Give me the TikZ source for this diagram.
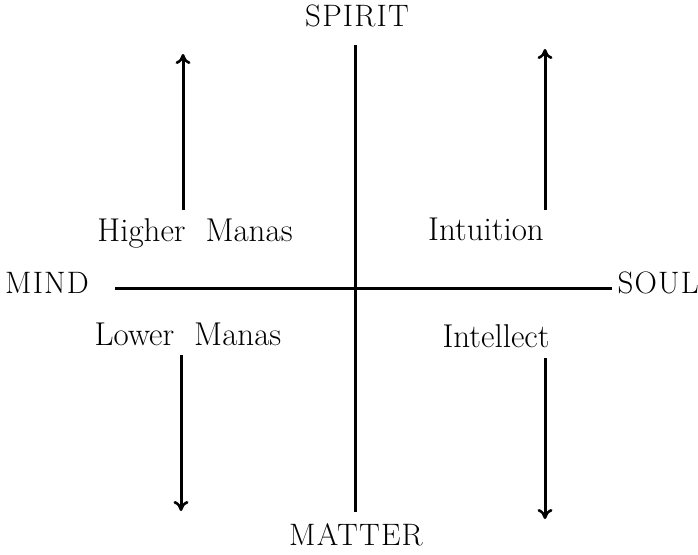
\documentclass[tikz,border=0pt]{standalone}
\usepackage{fontspec}
\setmainfont{Latin Modern Roman}
\usetikzlibrary{arrows.meta}
\begin{document}
\begin{tikzpicture}[x=1pt,y=-1pt,
  capl/.style={anchor=base,inner sep=0pt,font=\fontsize{31}{34}\selectfont\addfontfeatures{LetterSpace=4}},
  lbl/.style={anchor=base,inner sep=0pt,font=\fontsize{33}{36}\selectfont},
  axis/.style={line width=3pt},
  arr/.style={line width=3pt,-{To[length=10pt,width=15pt,line width=2.6pt]}}]
\useasboundingbox (0,0) rectangle (698,554);
\node[capl] (spirit) at (357,27) {SPIRIT};
\node[capl] (matter) at (356,545) {MATTER};
\node[capl,anchor=base west] (mind) at (5,293) {MIND};
\node[capl,anchor=base east] (soul) at (699,293) {SOUL};
\node[lbl] (hm) at (195,241) {Higher\ \ Manas};
\node[lbl] (in) at (486,240) {Intuition};
\node[lbl] (lm) at (188,345) {Lower\ \ Manas};
\node[lbl] (il) at (496,347) {Intellect};
\coordinate (vt) at (355,45);
\coordinate (vb) at (355,512);
\coordinate (hl) at (115,288);
\coordinate (hr) at (612,288);
\draw[axis] (vt) -- (vb);
\draw[axis] (hl) -- (hr);
\coordinate (a1s) at (183,210); \coordinate (a1e) at (183,54);
\coordinate (a2s) at (545,210); \coordinate (a2e) at (545,49);
\coordinate (a3s) at (181,355); \coordinate (a3e) at (181,511);
\coordinate (a4s) at (545,358); \coordinate (a4e) at (545,519);
\draw[arr] (a1s) -- (a1e);
\draw[arr] (a2s) -- (a2e);
\draw[arr] (a3s) -- (a3e);
\draw[arr] (a4s) -- (a4e);
\end{tikzpicture}
\end{document}
